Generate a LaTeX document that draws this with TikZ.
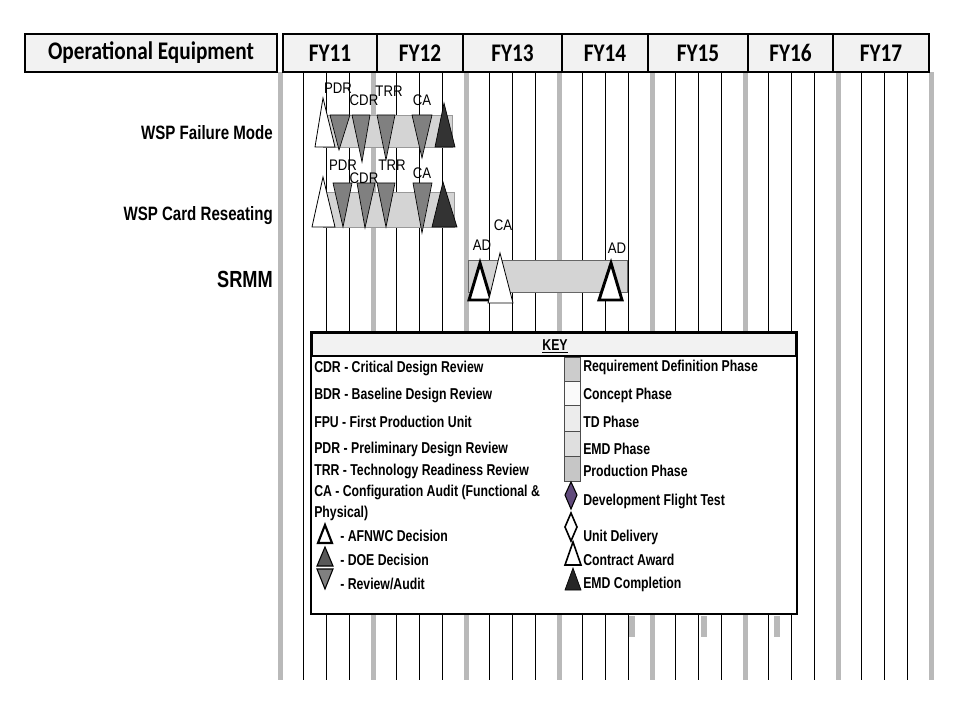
\documentclass[tikz,border=0pt]{standalone}
\usepackage{fontspec}
\setmainfont{Liberation Sans}
\newfontfamily\hdrfont[FakeStretch=0.84]{Carlito}
\newfontfamily\narrowfont[FakeStretch=0.78]{Liberation Sans}
\newfontfamily\msfont[FakeStretch=0.86]{Liberation Sans}
\usetikzlibrary{positioning}
\definecolor{flightpurple}{RGB}{96,74,123}
\definecolor{barfill}{RGB}{212,212,212}
\definecolor{yearline}{RGB}{185,185,185}

\begin{document}
\begin{tikzpicture}[x=0.75pt,y=-0.75pt,
  hdrbox/.style={draw=black, line width=2pt, fill=gray!10},
  hdrtext/.style={font=\hdrfont\bfseries\fontsize{19}{19}\selectfont, inner sep=0pt},
  rowlabel/.style={anchor=east, inner sep=0pt, font=\narrowfont\bfseries\fontsize{14.5}{15}\selectfont},
  mslabel/.style={inner sep=0pt, font=\msfont\fontsize{11.5}{12}\selectfont},
  keytext/.style={anchor=west, inner sep=0pt, font=\narrowfont\bfseries\fontsize{11.8}{12}\selectfont},
  phasebar/.style={fill=barfill, draw=black!40, line width=0.4pt},
  upwhite/.style={fill=white, draw=black, line width=0.6pt},
  upthick/.style={fill=white, draw=black, line width=2.2pt},
  updark/.style={fill=black!80, draw=black, line width=0.5pt},
  downrev/.style={fill=black!50, draw=black, line width=0.5pt},
  swatch/.style={draw=black!70, line width=0.5pt}
]
\useasboundingbox (0,0) rectangle (960,720);
\fill[white] (0,0) rectangle (960,720);

% grid of quarters and years
\foreach \k in {0,...,6}
  \foreach \q in {1,2,3}
    \draw[line width=0.9pt] ({280+93*\k+23.25*\q},72) -- ({280+93*\k+23.25*\q},680);
\foreach \k in {0,...,7}
  \fill[yearline] ({277.5+93*\k},72) rectangle ({282.5+93*\k},680);

% header row
\draw[hdrbox] (25,34) rectangle (277,72);
\node[hdrtext] (hdr) at (151,53) {Operational Equipment};
\foreach \a/\b/\t in {283/377/FY11, 377/463/FY12, 463/562/FY13, 562/648/FY14,
                      648/748/FY15, 748/833/FY16, 833/929/FY17} {
  \draw[hdrbox] (\a,34) rectangle (\b,72);
  \node[hdrtext] (yr\t) at ({(\a+\b)/2},53) {\t};
}

% row labels
\node[rowlabel] (wspfm) at (273,133) {WSP Failure Mode};
\node[rowlabel] (wspcr) at (273,216) {WSP Card Reseating};
\node[rowlabel, font=\narrowfont\bfseries\fontsize{17.5}{18}\selectfont] (srmm) at (273,279) {SRMM};

% WSP Failure Mode
\draw[phasebar] (323,115) rectangle (452,147);
\draw[upwhite] (315,147) -- (323,98) -- (335,147) -- cycle;
\draw[downrev] (330,115) -- (350,115) -- (339,150) -- cycle;
\draw[downrev] (352,115) -- (370,115) -- (362,162) -- cycle;
\draw[downrev] (377,115) -- (395,115) -- (386,160) -- cycle;
\draw[downrev] (412,115) -- (432,115) -- (422,158) -- cycle;
\draw[updark] (435,147) -- (444,103) -- (455,147) -- cycle;
\node[mslabel] (fmpdr) at (338,88) {PDR};
\node[mslabel] (fmcdr) at (364,100) {CDR};
\node[mslabel] (fmtrr) at (389,91) {TRR};
\node[mslabel] (fmca) at (422,100) {CA};

% WSP Card Reseating
\draw[phasebar] (323,192) rectangle (454,227);
\draw[upwhite] (312,227) -- (323,177) -- (335,227) -- cycle;
\draw[downrev] (333,183) -- (352,183) -- (343,227) -- cycle;
\draw[downrev] (357,183) -- (375,183) -- (365,228) -- cycle;
\draw[downrev] (377,183) -- (395,183) -- (386,227) -- cycle;
\draw[downrev] (413,183) -- (432,183) -- (422,233) -- cycle;
\draw[updark] (432,227) -- (443,182) -- (457,227) -- cycle;
\node[mslabel] (crpdr) at (343,165) {PDR};
\node[mslabel] (crcdr) at (364,178) {CDR};
\node[mslabel] (crtrr) at (392,165) {TRR};
\node[mslabel] (crca) at (422,173) {CA};

% SRMM
\draw[phasebar, draw=black!60] (468,260) rectangle (627,292);
\draw[upthick] (469,300) -- (480,263) -- (491,300) -- cycle;
\draw[upwhite] (488,303) -- (500,253) -- (513,303) -- cycle;
\draw[upthick] (599,300) -- (611,263) -- (622,300) -- cycle;
\node[mslabel] (srad) at (482,245) {AD};
\node[mslabel] (srca) at (503,225) {CA};
\node[mslabel] (srad2) at (617,248) {AD};

% leftover marks below the key
\foreach \x in {632,704,777}
  \fill[yearline] ({\x-3},616) rectangle ({\x+3},637);

% key
\draw[fill=white, line width=1.8pt] (311,332) rectangle (797,614);
\draw[fill=gray!10, line width=0.8pt] (312,333) rectangle (796,356);
\node[inner sep=0pt, font=\narrowfont\bfseries\fontsize{11.8}{12}\selectfont] (keyhdr) at (555,346) {\underline{KEY}};

\node[keytext] (kcdr) at (314,368) {CDR - Critical Design Review};
\node[keytext] (kbdr) at (314,395) {BDR - Baseline Design Review};
\node[keytext] (kfpu) at (314,422) {FPU - First Production Unit};
\node[keytext] (kpdr) at (314,449) {PDR - Preliminary Design Review};
\node[keytext] (ktrr) at (314,471) {TRR - Technology Readiness Review};
\node[keytext] (kca) at (314,492) {CA - Configuration Audit (Functional \&};
\node[keytext] (kphys) at (314,513) {Physical)};

\draw[upthick, line width=1.6pt] (318,543) -- (325,525) -- (332,543) -- cycle;
\draw[fill=black!65, draw=black, line width=0.8pt] (317,566) -- (325,547) -- (333,566) -- cycle;
\draw[downrev, line width=0.8pt] (317,569) -- (333,569) -- (325,589) -- cycle;
\node[keytext] (kafnwc) at (340,536) {- AFNWC Decision};
\node[keytext] (kdoe) at (340,560) {- DOE Decision};
\node[keytext] (krev) at (340,584) {- Review/Audit};

% phase swatches
\draw[swatch, fill=gray!40] (564,357) rectangle (580,381);
\draw[swatch, fill=gray!4] (564,381) rectangle (580,405);
\draw[swatch, fill=gray!15] (564,405) rectangle (580,431);
\draw[swatch, fill=gray!25] (564,431) rectangle (580,456);
\draw[swatch, fill=gray!45] (564,456) rectangle (580,481);
\node[keytext] (kreq) at (583,367) {Requirement Definition Phase};
\node[keytext] (kcon) at (583,395) {Concept Phase};
\node[keytext] (ktd) at (583,422) {TD Phase};
\node[keytext] (kemd) at (583,449) {EMD Phase};
\node[keytext] (kprod) at (583,471) {Production Phase};

% milestone symbols
\draw[fill=flightpurple, draw=black, line width=0.8pt] (571,482) -- (577,495) -- (571,509) -- (565,495) -- cycle;
\draw[fill=white, draw=black, line width=1.2pt] (571,513) -- (577,527) -- (571,541) -- (565,527) -- cycle;
\draw[upwhite, line width=1.2pt] (565,565) -- (573,542) -- (581,565) -- cycle;
\draw[updark, fill=black!85] (565,590) -- (573,568) -- (581,590) -- cycle;
\node[keytext] (kdft) at (583,501) {Development Flight Test};
\node[keytext] (kunit) at (583,537) {Unit Delivery};
\node[keytext] (kaward) at (583,560) {Contract Award};
\node[keytext] (kemdc) at (583,584) {EMD Completion};
\end{tikzpicture}
\end{document}
